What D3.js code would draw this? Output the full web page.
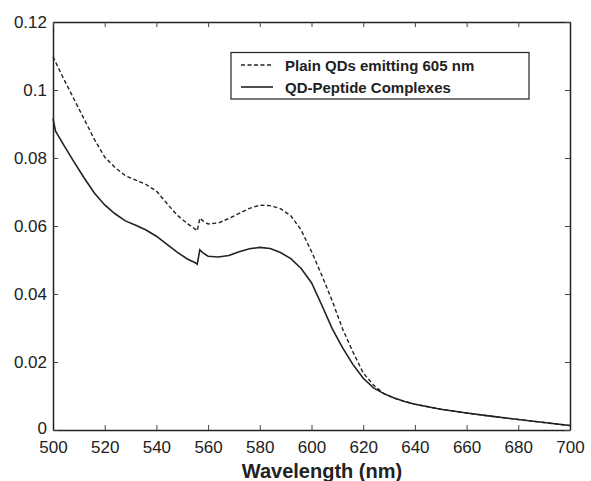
<!DOCTYPE html>
<html>
<head>
<meta charset="utf-8">
<script src="https://cdn.jsdelivr.net/npm/d3@7"></script>
<style>
  body { margin: 0; background: #fff; }
  text { font-family: "Liberation Sans", Arial, sans-serif; fill: #222; }
</style>
</head>
<body>
<div id="chart"></div>
<script>
var margin = {top: 22, right: 21, bottom: 51, left: 53};
var svgWidth = 591, svgHeight = 481;

// wavelengths (nm) shared by both series
var wavelengths = [500, 501, 504, 508, 512, 516, 520, 524, 528, 532, 536, 540, 544, 548, 552, 555, 555.8, 556.8, 558, 560,
  564, 568, 572, 576, 580, 584, 588, 592, 596, 600, 604, 608, 612, 616, 620, 624, 628, 632, 636, 640,
  650, 660, 670, 680, 690, 700];

var plainQDs = [0.1098, 0.1082, 0.1035, 0.0975, 0.0915, 0.0855, 0.0803, 0.0772, 0.0748, 0.0735, 0.0722, 0.0703, 0.0667, 0.0632, 0.0607, 0.0591, 0.0586, 0.0623, 0.0615, 0.0606,
  0.0609, 0.0622, 0.0637, 0.0652, 0.0661, 0.0660, 0.0651, 0.0630, 0.0588, 0.0525, 0.0455, 0.0380, 0.0298, 0.0230, 0.0168, 0.0132, 0.0107, 0.0094, 0.0084, 0.0076,
  0.0061, 0.0050, 0.0040, 0.0031, 0.0022, 0.0013];

var peptideComplexes = [0.0916, 0.0879, 0.0840, 0.0790, 0.0742, 0.0697, 0.0662, 0.0636, 0.0615, 0.0602, 0.0588, 0.0570, 0.0547, 0.0523, 0.0503, 0.0492, 0.0488, 0.0530, 0.0521, 0.0511,
  0.0509, 0.0513, 0.0524, 0.0533, 0.0537, 0.0534, 0.0522, 0.0504, 0.0475, 0.0433, 0.0367, 0.0298, 0.0242, 0.0193, 0.0152, 0.0124, 0.0107, 0.0094, 0.0084, 0.0076,
  0.0061, 0.0050, 0.0040, 0.0031, 0.0022, 0.0013];

var xTicks = [500, 520, 540, 560, 580, 600, 620, 640, 660, 680, 700];
var yTicks = [0, 0.02, 0.04, 0.06, 0.08, 0.1, 0.12];
var seriesNames = ["Plain QDs emitting 605 nm", "QD-Peptide Complexes"];

const svg = d3.select("#chart")
    .append("svg")
    .attr("width", svgWidth)
    .attr("height", svgHeight);

const w = svgWidth - margin.left - margin.right;
const h = svgHeight - margin.top - margin.bottom;

const x = d3.scaleLinear().domain([500, 700]).range([margin.left, margin.left + w]);
const y = d3.scaleLinear().domain([0, 0.12]).range([margin.top + h, margin.top]);

const fmtY = d => d === 0 ? "0" : String(+d.toFixed(2));

// axes, ticks pointing inward, plus mirror axes on top and right
const bottomAxis = svg.append("g")
    .attr("transform", "translate(0," + (margin.top + h) + ")")
    .call(d3.axisBottom(x).tickValues(xTicks).tickSizeInner(-5).tickSizeOuter(0).tickPadding(11));
const leftAxis = svg.append("g")
    .attr("transform", "translate(" + margin.left + ",0)")
    .call(d3.axisLeft(y).tickValues(yTicks).tickFormat(fmtY).tickSizeInner(-5).tickSizeOuter(0).tickPadding(6));
const topAxis = svg.append("g")
    .attr("transform", "translate(0," + margin.top + ")")
    .call(d3.axisTop(x).tickValues(xTicks).tickSizeInner(-5).tickSizeOuter(0).tickFormat(""));
const rightAxis = svg.append("g")
    .attr("transform", "translate(" + (margin.left + w) + ",0)")
    .call(d3.axisRight(y).tickValues(yTicks).tickSizeInner(-5).tickSizeOuter(0).tickFormat(""));

[bottomAxis, leftAxis, topAxis, rightAxis].forEach(g => {
    g.select(".domain").attr("stroke", "#222").attr("stroke-width", 1.5);
    g.selectAll(".tick line").attr("stroke", "#444");
    g.selectAll(".tick text")
        .attr("font-size", 17)
        .attr("font-family", "'Liberation Sans', Arial, sans-serif")
        .attr("fill", "#222");
});
// lift the "0" label a little so it clears "500"
leftAxis.selectAll(".tick text").filter(d => d === 0).attr("dy", "0.2em");

const line = d3.line()
    .x((d, i) => x(wavelengths[i]))
    .y(d => y(d));

svg.append("path")
    .datum(plainQDs)
    .attr("fill", "none")
    .attr("stroke", "#222")
    .attr("stroke-width", 1.4)
    .attr("stroke-dasharray", "4,2.5")
    .attr("d", line);

svg.append("path")
    .datum(peptideComplexes)
    .attr("fill", "none")
    .attr("stroke", "#222")
    .attr("stroke-width", 1.6)
    .attr("d", line);

// x axis title
svg.append("text")
    .text("Wavelength (nm)")
    .attr("text-anchor", "middle")
    .attr("x", 322)
    .attr("y", 478)
    .attr("font-size", 20)
    .attr("font-weight", "bold");

// legend
const legend = svg.append("g");
legend.append("rect")
    .attr("x", 231)
    .attr("y", 52.5)
    .attr("width", 298)
    .attr("height", 46.5)
    .attr("fill", "#fff")
    .attr("stroke", "#222")
    .attr("stroke-width", 1.2);

seriesNames.forEach((name, i) => {
    const ly = 65 + i * 22;
    legend.append("line")
        .attr("x1", 241)
        .attr("x2", 273)
        .attr("y1", ly)
        .attr("y2", ly)
        .attr("stroke", "#222")
        .attr("stroke-width", i === 0 ? 1.4 : 1.6)
        .attr("stroke-dasharray", i === 0 ? "4,2.5" : null);
    legend.append("text")
        .text(name)
        .attr("x", 285)
        .attr("y", ly + 5.5)
        .attr("font-size", 15)
        .attr("font-weight", "bold");
});
</script>
</body>
</html>
